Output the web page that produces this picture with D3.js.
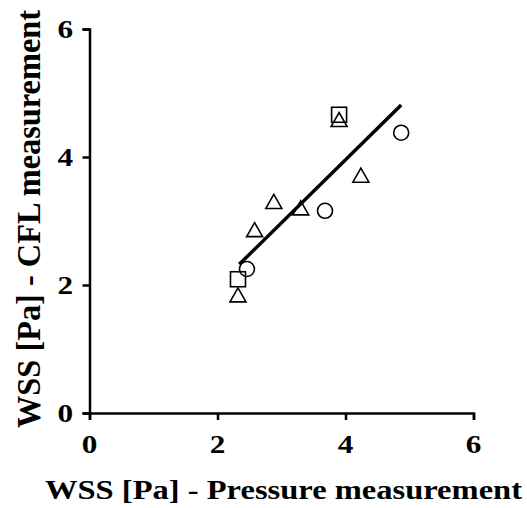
<!DOCTYPE html>
<html>
<head>
<meta charset="utf-8">
<script src="https://cdn.jsdelivr.net/npm/d3@7"></script>
<style>
  body { margin: 0; background: #fff; }
  text { font-family: "Liberation Serif", "Times New Roman", serif; font-weight: bold; fill: #000; }
</style>
</head>
<body>
<svg id="chart" width="527" height="508"></svg>
<script>
const circles = [[2.46, 2.25], [3.68, 3.16], [4.87, 4.38]];
const squares = [[2.32, 2.09], [3.90, 4.66]];
const triangles = [[2.32, 1.83], [2.58, 2.85], [2.88, 3.29], [3.30, 3.19], [3.90, 4.57], [4.24, 3.70]];
const fit = { slope: 0.984, intercept: 0.02, xMin: 2.34, xMax: 4.87 };
const ticks = [0, 2, 4, 6];

const svg = d3.select('#chart');

const x = d3.scaleLinear().domain([0, 6]).range([89.5, 473.5]);
const y = d3.scaleLinear().domain([0, 6]).range([413, 29]);

const xAxis = svg.append('g')
  .attr('transform', 'translate(0,413)')
  .call(d3.axisBottom(x).tickValues(ticks).tickSize(7).tickFormat(''));

const yAxis = svg.append('g')
  .attr('transform', 'translate(89.5,0)')
  .call(d3.axisLeft(y).tickValues(ticks).tickSize(7).tickFormat(''));

[xAxis, yAxis].forEach(g => {
  g.select('.domain').attr('stroke', '#000').attr('stroke-width', 2.5);
  g.selectAll('.tick line').attr('stroke', '#000').attr('stroke-width', 2.5);
});

// tick labels (the original is a bit stretched horizontally)
svg.selectAll('.xlab').data(ticks).join('text')
  .attr('transform', d => `translate(${x(d)},453) scale(1.2,1)`)
  .attr('text-anchor', 'middle')
  .style('font-size', '26px')
  .text(d => d);

svg.selectAll('.ylab').data(ticks).join('text')
  .attr('transform', d => `translate(73,${y(d) + 8.5}) scale(1.2,1)`)
  .attr('text-anchor', 'end')
  .style('font-size', '26px')
  .text(d => d);

// regression line
svg.append('line')
  .attr('x1', x(fit.xMin)).attr('y1', y(fit.intercept + fit.slope * fit.xMin))
  .attr('x2', x(fit.xMax)).attr('y2', y(fit.intercept + fit.slope * fit.xMax))
  .attr('stroke', '#000')
  .attr('stroke-width', 3.5);

const mark = { fill: 'none', stroke: '#000', sw: 1.6 };

svg.selectAll('.circ').data(circles).join('circle')
  .attr('cx', d => x(d[0])).attr('cy', d => y(d[1])).attr('r', 7.5)
  .attr('fill', mark.fill).attr('stroke', mark.stroke).attr('stroke-width', mark.sw);

svg.selectAll('.sq').data(squares).join('rect')
  .attr('x', d => x(d[0]) - 7.5).attr('y', d => y(d[1]) - 7.5)
  .attr('width', 15).attr('height', 15)
  .attr('fill', mark.fill).attr('stroke', mark.stroke).attr('stroke-width', mark.sw);

svg.selectAll('.tri').data(triangles).join('path')
  .attr('d', d => {
    const cx = x(d[0]), cy = y(d[1]);
    return `M${cx},${cy - 8}L${cx + 8},${cy + 6}L${cx - 8},${cy + 6}Z`;
  })
  .attr('fill', mark.fill).attr('stroke', mark.stroke).attr('stroke-width', mark.sw);

// axis titles
svg.append('text')
  .attr('x', 45).attr('y', 499)
  .attr('textLength', 477)
  .attr('lengthAdjust', 'spacingAndGlyphs')
  .style('font-size', '28px')
  .text('WSS [Pa] - Pressure measurement');

svg.append('text')
  .attr('transform', 'translate(40,428) rotate(-90) scale(1,1.2)')
  .attr('textLength', 418)
  .attr('lengthAdjust', 'spacingAndGlyphs')
  .style('font-size', '28px')
  .text('WSS [Pa] - CFL measurement');
</script>
</body>
</html>
